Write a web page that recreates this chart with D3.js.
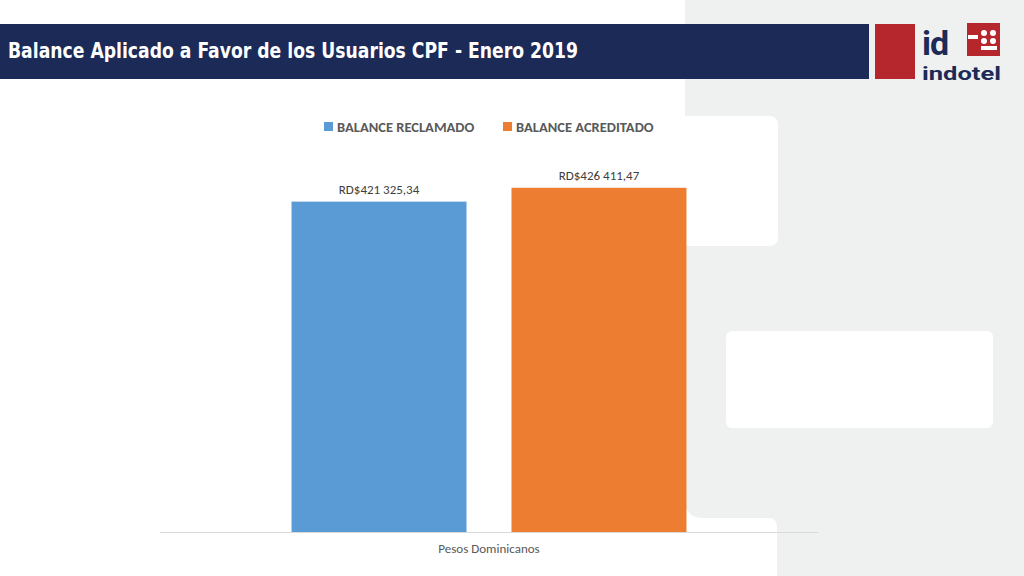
<!DOCTYPE html>
<html><head><meta charset="utf-8">
<script src="https://cdn.jsdelivr.net/npm/d3@7"></script>
<style>body{margin:0;background:#fff}svg{display:block;font-family:Calibri,Carlito,"Open Sans",sans-serif}</style>
</head><body>
<script>
var series = ["BALANCE RECLAMADO", "BALANCE ACREDITADO"];
var values = [421325.34, 426411.47];
var colors = ["#5b9bd5", "#ed7d31"];
var category = "Pesos Dominicanos";
var labels = ["RD$421 325,34", "RD$426 411,47"];

var W = 1024, H = 576;
var svg = d3.select("body").append("svg").attr("width", W).attr("height", H);

// background shapes
svg.append("rect").attr("x", 685).attr("y", 0).attr("width", 339).attr("height", H).attr("fill", "#eff0f0");
svg.append("rect").attr("x", 640).attr("y", 116).attr("width", 138).attr("height", 130).attr("rx", 8).attr("fill", "#fff");
svg.append("rect").attr("x", 640).attr("y", 518).attr("width", 137).attr("height", 80).attr("rx", 8).attr("fill", "#fff");
svg.append("rect").attr("x", 726).attr("y", 331).attr("width", 267).attr("height", 97).attr("rx", 6).attr("fill", "#fff");
svg.append("path").attr("d", "M685,500 Q685,518 703,518 L685,518Z").attr("fill", "#fff");

// title bar
svg.append("rect").attr("x", 0).attr("y", 24).attr("width", 869).attr("height", 55).attr("fill", "#1b2a57");
svg.append("rect").attr("x", 875).attr("y", 24).attr("width", 40).attr("height", 55).attr("fill", "#b5272d");
svg.append("text").attr("x", 8).attr("y", 58).attr("fill", "#fff").attr("font-size", 22).attr("font-weight", "bold")
  .attr("font-family", "'DejaVu Sans Condensed','Liberation Sans Narrow',sans-serif")
  .attr("textLength", 570).attr("lengthAdjust", "spacingAndGlyphs")
  .text("Balance Aplicado a Favor de los Usuarios CPF - Enero 2019");

// logo
svg.append("text").attr("x", 922).attr("y", 55).attr("fill", "#1b2a57").attr("font-size", 34).attr("font-weight", "bold")
  .attr("font-family", "Roboto,sans-serif").attr("letter-spacing", -1).text("id");
svg.append("rect").attr("x", 967).attr("y", 23).attr("width", 33).attr("height", 33).attr("fill", "#b5272d");
[[984,33],[993,33],[984,41],[993,41]].forEach(function(p){
  svg.append("circle").attr("cx", p[0]).attr("cy", p[1]).attr("r", 3).attr("fill", "#fff");
});
svg.append("rect").attr("x", 968).attr("y", 35).attr("width", 10).attr("height", 4).attr("fill", "#fff");
svg.append("rect").attr("x", 981).attr("y", 46).attr("width", 16).attr("height", 4).attr("fill", "#fff");
svg.append("text").attr("x", 922).attr("y", 80).attr("fill", "#1b2a57").attr("font-size", 19).attr("font-weight", "bold")
  .attr("font-family", "Roboto,sans-serif").attr("textLength", 79).attr("lengthAdjust", "spacingAndGlyphs").text("indotel");

// chart
var x0 = 160, x1 = 818, yBase = 532, yTop = 178;
var y = d3.scaleLinear().domain([300000, 430000]).range([yBase, yTop]);
var xc = d3.scaleBand().domain([category]).range([x0, x1]).paddingInner(0).paddingOuter(0.333);
var xs = d3.scaleBand().domain(series).range([xc(category), xc(category) + xc.bandwidth()]).paddingInner(0.2045);

var g = svg.append("g");
g.selectAll("rect.bar").data(series).enter().append("rect").attr("class", "bar")
  .attr("x", function(d){ return xs(d); }).attr("width", xs.bandwidth())
  .attr("y", function(d, i){ return y(values[i]); })
  .attr("height", function(d, i){ return yBase - y(values[i]); })
  .attr("fill", function(d, i){ return colors[i]; });
g.selectAll("text.lab").data(series).enter().append("text")
  .attr("x", function(d){ return xs(d) + xs.bandwidth() / 2; })
  .attr("y", function(d, i){ return y(values[i]) - 8; })
  .attr("text-anchor", "middle").attr("font-size", 13).attr("fill", "#404040")
  .text(function(d, i){ return labels[i]; });

svg.append("line").attr("x1", x0).attr("x2", x1).attr("y1", yBase + 0.5).attr("y2", yBase + 0.5).attr("stroke", "#d9d9d9");
svg.append("text").attr("x", (x0 + x1) / 2).attr("y", 553).attr("text-anchor", "middle")
  .attr("font-size", 13).attr("fill", "#595959").text(category);

// legend
var lx = [324, 503];
series.forEach(function(s, i){
  svg.append("rect").attr("x", lx[i]).attr("y", 122).attr("width", 9).attr("height", 9).attr("fill", colors[i]);
  svg.append("text").attr("x", lx[i] + 13).attr("y", 132).attr("font-size", 14.5).attr("font-weight", "bold")
    .attr("fill", "#595959").text(s);
});
</script>
</body></html>
